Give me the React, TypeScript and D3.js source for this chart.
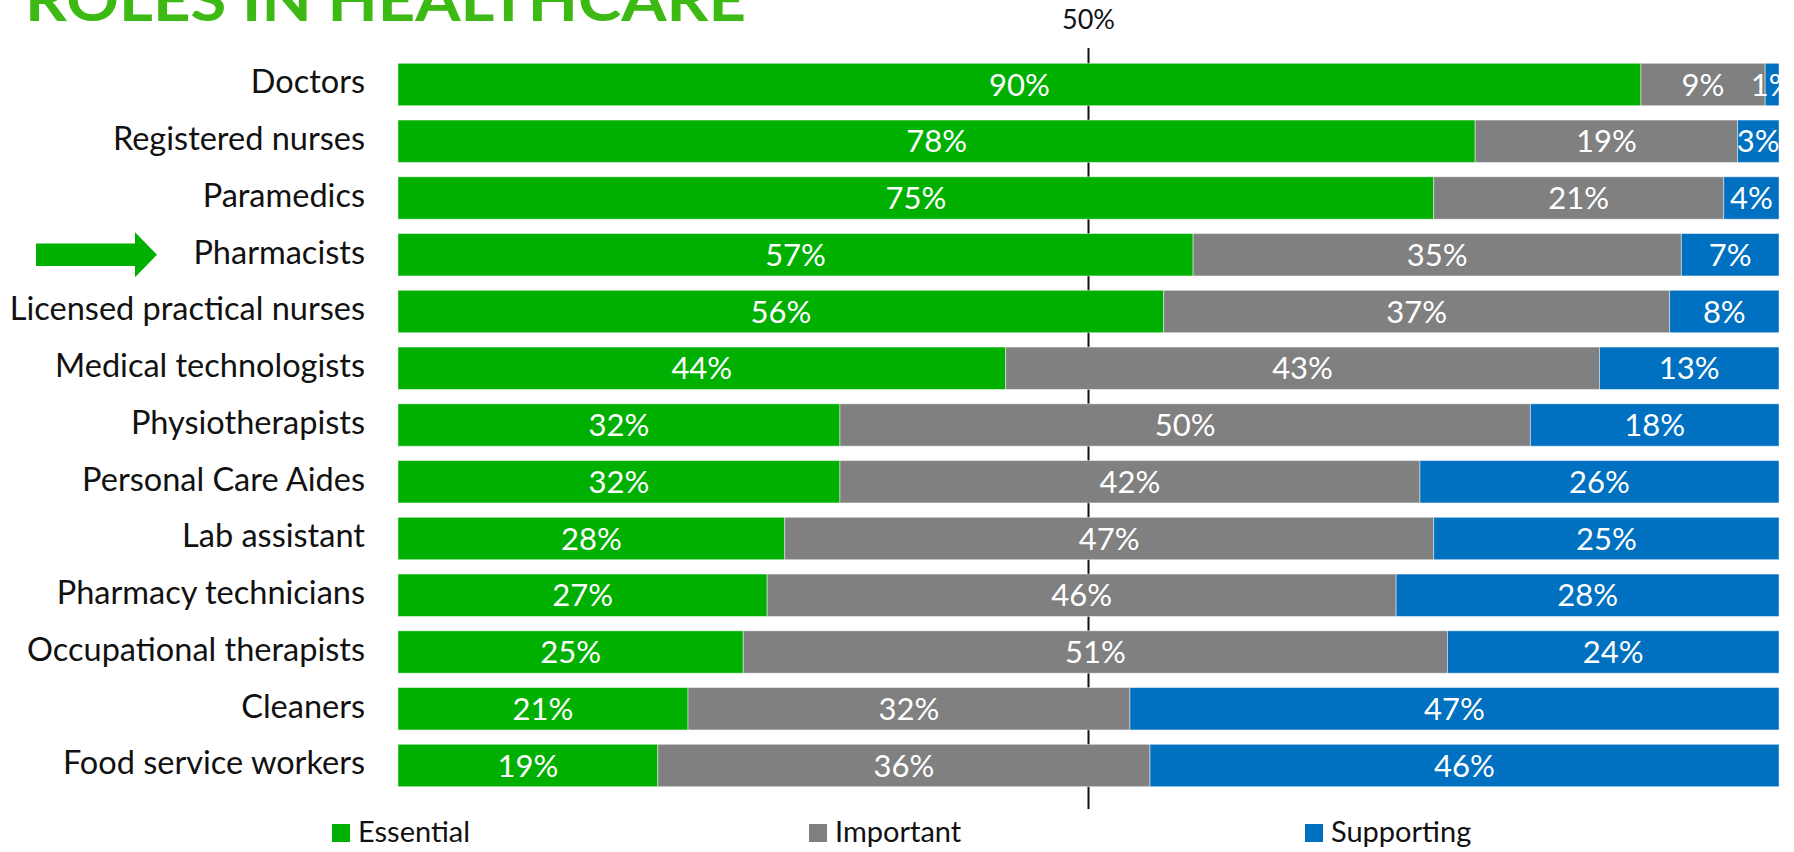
import * as d3 from 'd3';
import { useEffect } from 'react';

const ROLES = [
  'Doctors',
  'Registered nurses',
  'Paramedics',
  'Pharmacists',
  'Licensed practical nurses',
  'Medical technologists',
  'Physiotherapists',
  'Personal Care Aides',
  'Lab assistant',
  'Pharmacy technicians',
  'Occupational therapists',
  'Cleaners',
  'Food service workers',
];
const ESSENTIAL = [90, 78, 75, 57, 56, 44, 32, 32, 28, 27, 25, 21, 19];
const IMPORTANT = [9, 19, 21, 35, 37, 43, 50, 42, 47, 46, 51, 32, 36];
const SUPPORTING = [1, 3, 4, 7, 8, 13, 18, 26, 25, 28, 24, 47, 46];
const SERIES = ['Essential', 'Important', 'Supporting'];
const HIGHLIGHT = 'Pharmacists';
const TITLE = 'ROLES IN HEALTHCARE';
const MID_LABEL = '50%';

const COLORS: Record<string, string> = {
  Essential: '#00b000',
  Important: '#808080',
  Supporting: '#0070c0',
};

const WIDTH = 1794;
const HEIGHT = 852;
const FONT = 'Lato, "Open Sans", sans-serif';

export default function App() {
  useEffect(() => {
    document.body.style.margin = '0';
  }, []);

  const rows = ROLES.map((role, i) => ({
    role,
    Essential: ESSENTIAL[i],
    Important: IMPORTANT[i],
    Supporting: SUPPORTING[i],
  }));

  // each bar fills the full width, segments are shares of the row total
  const stacked = d3.stack<any>().keys(SERIES).offset(d3.stackOffsetExpand)(rows);

  const x = d3.scaleLinear().domain([0, 1]).range([398, 1779]);
  const y = d3.scaleBand().domain(ROLES).range([63.3, 786.7]).paddingInner(0.253).paddingOuter(0);
  const bw = y.bandwidth();

  const legendX = d3.scaleOrdinal<string, number>().domain(SERIES).range([332, 809, 1305]);

  const hy = (y(HIGHLIGHT) ?? 0) + bw / 2;
  const arrow = d3.line()([
    [36, hy - 11.3],
    [135, hy - 11.3],
    [135, hy - 22.5],
    [157, hy],
    [135, hy + 22.5],
    [135, hy + 11.3],
    [36, hy + 11.3],
  ]) + 'Z';

  return (
    <svg width={WIDTH} height={HEIGHT} style={{ display: 'block', background: '#fff' }} fontFamily={FONT}>
      <defs>
        <clipPath id="plot-clip">
          <rect x={0} y={0} width={x(1)} height={HEIGHT} />
        </clipPath>
      </defs>

      <text x={25} y={21} fill="#3cb913" fontSize={60} fontWeight={700} textLength={721} lengthAdjust="spacingAndGlyphs">
        {TITLE}
      </text>

      {/* 50% reference line sits behind the bars */}
      <line x1={x(0.5)} x2={x(0.5)} y1={48} y2={809} stroke="#111" strokeWidth={2} />
      <text x={x(0.5)} y={29} textAnchor="middle" fontSize={27} fill="#111">{MID_LABEL}</text>

      <g clipPath="url(#plot-clip)">
        {stacked.map(layer => (
          <g key={layer.key} fill={COLORS[layer.key]}>
            {layer.map((d, i) => (
              <rect
                key={ROLES[i]}
                x={x(d[0])}
                y={y(ROLES[i])}
                width={x(d[1]) - x(d[0])}
                height={bw}
                stroke="#ffffff"
                strokeOpacity={0.45}
                strokeWidth={1}
              />
            ))}
          </g>
        ))}
        {stacked.map(layer => (
          <g key={layer.key + '-labels'}>
            {layer.map((d, i) => (
              <text
                key={ROLES[i]}
                x={(x(d[0]) + x(d[1])) / 2}
                y={(y(ROLES[i]) ?? 0) + bw / 2 + 11.2}
                textAnchor="middle"
                fontSize={31}
                fill="#fff"
              >
                {(d.data as any)[layer.key]}%
              </text>
            ))}
          </g>
        ))}
      </g>

      {ROLES.map(role => (
        <text
          key={role}
          x={365}
          y={(y(role) ?? 0) + bw / 2 + 8.8}
          textAnchor="end"
          fontSize={32.5}
          fill="#111"
        >
          {role}
        </text>
      ))}

      <path d={arrow} fill="#00b000" />

      {SERIES.map(s => (
        <g key={s} transform={`translate(${legendX(s)},824)`}>
          <rect width={18} height={18} fill={COLORS[s]} />
          <text x={26} y={18} fontSize={29} fill="#111">{s}</text>
        </g>
      ))}
    </svg>
  );
}
